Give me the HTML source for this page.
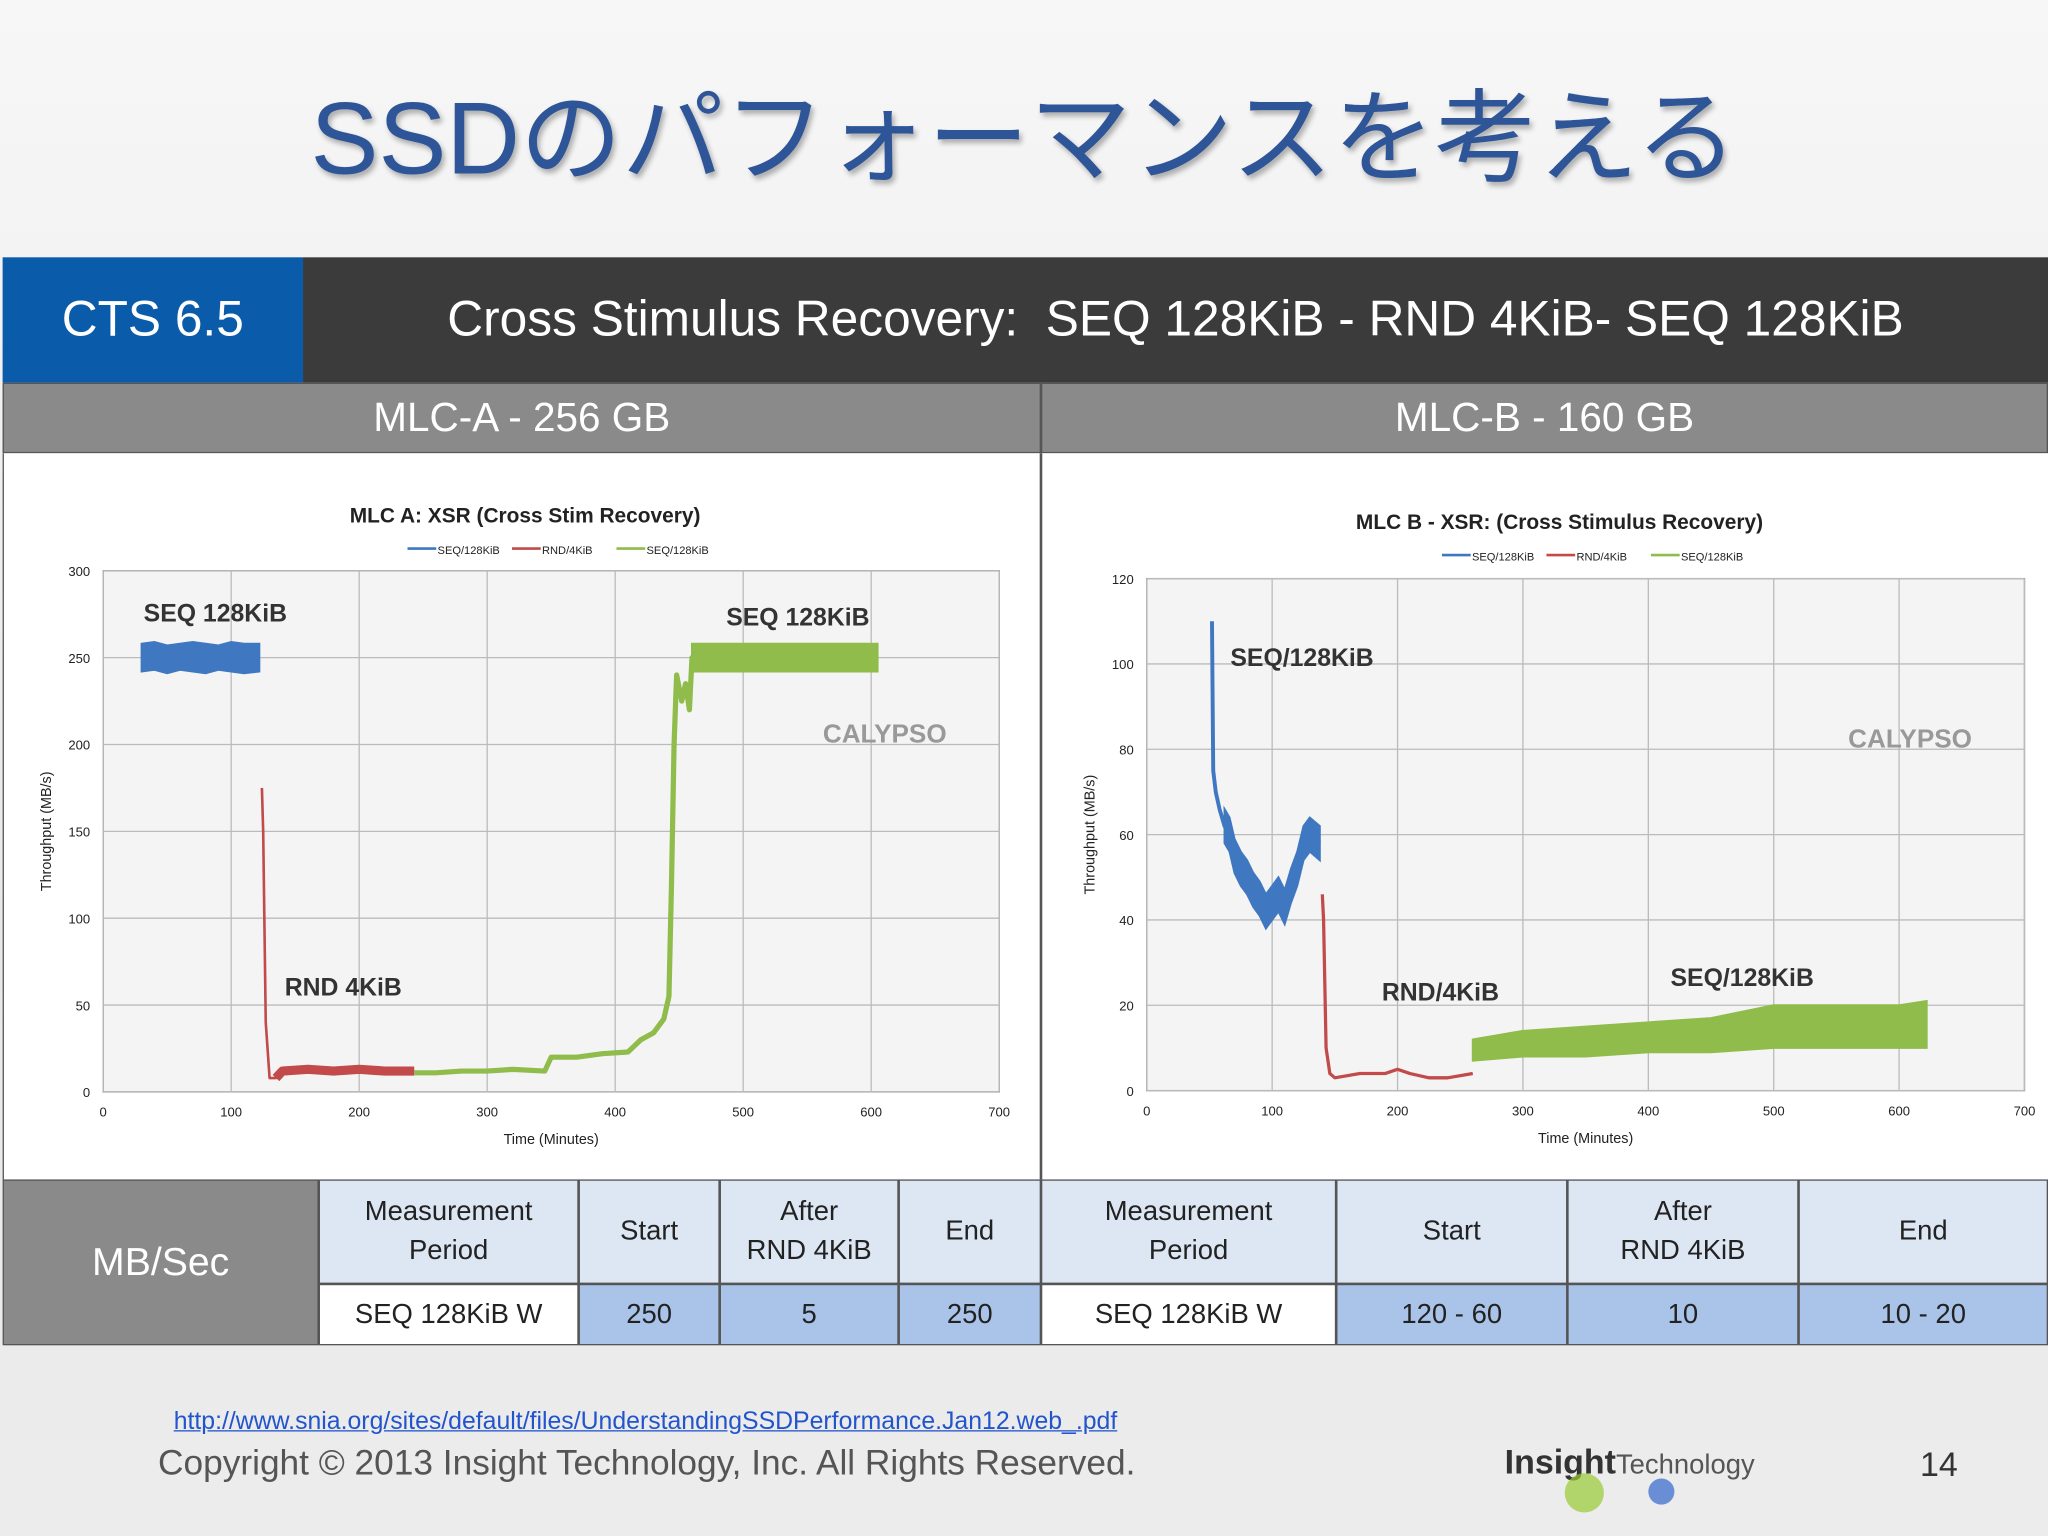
<!DOCTYPE html>
<html><head><meta charset="utf-8"><style>
html,body{margin:0;padding:0;width:2048px;height:1536px;overflow:hidden}
#wrap{position:absolute;left:0;top:0;width:1568px;height:1176px;transform:scale(1.306122);transform-origin:0 0;background:linear-gradient(#f7f7f7,#e8e8e8 60%,#ececec);font-family:"Liberation Sans","Noto Sans CJK JP",sans-serif}
.a{position:absolute}
.c{display:flex;align-items:center;justify-content:center;text-align:center;box-sizing:border-box}
</style></head><body>
<div id="wrap">
<div class="a c" style="left:0;top:50px;width:1568px;height:100px;font-size:78px;color:#2e5597;text-shadow:2px 3px 4px rgba(0,0,0,.3)">SSDのパフォーマンスを考える</div>
<div class="a c" style="left:2px;top:197px;width:230px;height:96px;background:#0b5bab;color:#fff;font-size:38px">CTS 6.5</div>
<div class="a c" style="left:232px;top:197px;width:1336px;height:96px;background:#3b3b3b;color:#fff;font-size:38px">Cross Stimulus Recovery:&nbsp; SEQ 128KiB - RND 4KiB- SEQ 128KiB</div>
<div class="a c" style="left:2px;top:293px;width:795px;height:54px;background:#8a8a8a;color:#fff;font-size:31px;border:1px solid #555">MLC-A - 256 GB</div>
<div class="a c" style="left:797px;top:293px;width:771px;height:54px;background:#8a8a8a;color:#fff;font-size:31px;border:1px solid #555">MLC-B - 160 GB</div>
<div class="a" style="left:2px;top:347px;width:1566px;height:556px;background:#fff;border-left:1px solid #555"></div>
<div class="a" style="left:796px;top:347px;width:2px;height:556px;background:#555"></div>
<svg id="chartA" class="a" style="left:0;top:347px" width="797" height="556"></svg>
<svg id="chartB" class="a" style="left:798px;top:347px" width="770" height="556"></svg>

<div class="a" style="left:2px;top:903px;width:1566px;height:127px;background:#555"></div>
<div class="a c" style="left:3px;top:904px;width:240px;height:125px;background:#8a8a8a;color:#fff;font-size:30px">MB/Sec</div>
<div id="tbl"></div>

<div class="a" style="left:133px;top:1078px;font-size:19px;color:#2255cc;text-decoration:underline">http://www.snia.org/sites/default/files/UnderstandingSSDPerformance.Jan12.web_.pdf</div>
<div class="a" style="left:121px;top:1105px;font-size:27px;color:#555">Copyright © 2013 Insight Technology, Inc. All Rights Reserved.</div>
<div class="a" style="left:1152px;top:1104px;font-size:26px;color:#333;font-weight:bold">Insight<span style="font-weight:normal;font-size:21px;color:#555">Technology</span></div>
<div class="a" style="left:1198px;top:1128px;width:30px;height:30px;border-radius:50%;background:#9c3;opacity:.7"></div>
<div class="a" style="left:1262px;top:1132px;width:20px;height:20px;border-radius:50%;background:#36c;opacity:.7"></div>
<div class="a" style="left:1470px;top:1106px;font-size:26px;color:#333">14</div>
</div>
<script>
// ---- Chart A data ----
const aBlueX=[30,40,50,60,70,80,90,100,110,122];
const aBlueLo=[242,243,241,243,242,241,243,242,241,242];
const aBlueHi=[258,259,257,258,259,258,257,259,258,258];
const aRedX=[124,125,127,130,135,140,160,180,200,220,243];
const aRedY=[175,150,40,8,8,12,13,12,13,12,12];
const aGreenX=[243,260,280,300,320,345,350,370,390,410,420,430,438,442,444,446,448,452,455,458,460,470,500,550,605];
const aGreenY=[11,11,12,12,13,12,20,20,22,23,30,34,42,55,120,200,240,225,235,220,250,250,250,250,250];
// ---- Chart B data ----
const bBlueX=[52,53,55,58,62,66,70,75,80,85,90,95,100,105,110,115,120,125,130,138];
const bBlueY=[110,75,70,66,62,60,55,52,50,47,45,42,44,46,43,48,52,58,60,58];
const bRedX=[140,141,143,146,150,170,190,200,210,225,240,260];
const bRedY=[46,40,10,4,3,4,4,5,4,3,3,4];
const bGreenX=[260,300,350,400,450,500,550,600,622];
const bGreenLo=[7,8,8,9,9,10,10,10,10];
const bGreenHi=[12,14,15,16,17,20,20,20,21];
const xTicks=[0,100,200,300,400,500,600,700];
const aYTicks=[0,50,100,150,200,250,300];
const bYTicks=[0,20,40,60,80,100,120];
const NS="http://www.w3.org/2000/svg";
function mk(svg,tag,at,txt){const e=document.createElementNS(NS,tag);for(const k in at)e.setAttribute(k,at[k]);if(txt!=null)e.textContent=txt;svg.appendChild(e);return e;}
function axes(svg,px,py,pw,ph,ymax,yTicks,title,ttlY,name){
  const X=v=>px+v/700*pw, Y=v=>py+ph-v/ymax*ph;
  let r=mk(svg,'rect',{x:px,y:py,width:pw,height:ph,fill:'#f4f4f4',stroke:'#777'});
  
  xTicks.forEach(t=>{let l=mk(svg,'line',{x1:X(t),x2:X(t),y1:py,y2:py+ph,stroke:'#bbb'});
    let tx=mk(svg,'text',{x:X(t),y:py+ph+19,'font-size':10,'text-anchor':'middle',fill:'#222'},t);});
  yTicks.forEach(t=>{let l=mk(svg,'line',{x1:px,x2:px+pw,y1:Y(t),y2:Y(t),stroke:'#bbb'});
    let tx=mk(svg,'text',{x:px-10,y:Y(t)+4,'font-size':10,'text-anchor':'end',fill:'#222'},t);});
  let tt=mk(svg,'text',{x:px+pw/2-20,y:ttlY,'font-size':16,'font-weight':'bold','text-anchor':'middle',fill:'#222'},title);
  let xt=mk(svg,'text',{x:px+pw/2,y:py+ph+40,'font-size':11,'text-anchor':'middle',fill:'#222'},'Time (Minutes)');
  let yt=mk(svg,'text',{x:0,y:0,'font-size':11,'text-anchor':'middle',fill:'#222',transform:`translate(${px-40},${py+ph/2}) rotate(-90)`},'Throughput (MB/s)');
  const cols=['#3f78c0','#c24a4a','#8fbc4a'],labs=['SEQ/128KiB','RND/4KiB','SEQ/128KiB'];
  let lx=px+pw/2-110;
  labs.forEach((s,i)=>{let g=mk(svg,'g',{});
    mk(g,'line',{x1:lx,x2:lx+22,y1:ttlY+20,y2:ttlY+20,stroke:cols[i],'stroke-width':2});
    mk(g,'text',{x:lx+23,y:ttlY+24,'font-size':8.5,fill:'#222'},s);lx+=80;});
  let w=mk(svg,'text',{x:px+pw-135,y:py+ph*0.33,'font-size':20,fill:'#999','font-weight':'bold'},'CALYPSO');
  return {X,Y};
}
function band(svg,X,Y,xs,lo,hi,col,name){
  let d='M'+xs.map((x,i)=>X(x)+','+Y(hi[i])).join('L')+'L'+xs.slice().reverse().map((x,j)=>X(x)+','+Y(lo[xs.length-1-j])).join('L')+'Z';
  let p=mk(svg,'path',{d,fill:col,stroke:col,'stroke-width':1.5});
}
function line(svg,X,Y,xs,ys,col,w,name){
  let p=mk(svg,'polyline',{points:xs.map((x,i)=>X(x)+','+Y(ys[i])).join(' '),fill:'none',stroke:col,'stroke-width':w,'stroke-linejoin':'round'});
}
function lab(svg,x,y,t){let e=mk(svg,'text',{x,y,'font-size':19,'font-weight':'bold',fill:'#333'},t);}
// Chart A
const A=document.getElementById('chartA');
let sa=axes(A,79,90,686,399,300,aYTicks,'MLC A:  XSR (Cross Stim Recovery)',53);
band(A,sa.X,sa.Y,aBlueX,aBlueLo,aBlueHi,'#3f78c0','series-seq-start');
line(A,sa.X,sa.Y,aRedX,aRedY,'#c24a4a',2,'series-rnd');
line(A,sa.X,sa.Y,aRedX.slice(4),aRedY.slice(4),'#c24a4a',7,'series-rnd-band');
line(A,sa.X,sa.Y,aGreenX,aGreenY,'#8fbc4a',4,'series-seq-end');
band(A,sa.X,sa.Y,aGreenX.slice(20),aGreenY.slice(20).map(v=>v-8),aGreenY.slice(20).map(v=>v+8),'#8fbc4a','series-seq-end-band');
lab(A,110,129,'SEQ 128KiB');lab(A,556,132,'SEQ 128KiB');lab(A,218,415,'RND 4KiB');
// Chart B
const B=document.getElementById('chartB');
let sb=axes(B,80,96,672,392,120,bYTicks,'MLC B - XSR: (Cross Stimulus Recovery)',58);
line(B,sb.X,sb.Y,bBlueX,bBlueY,'#3f78c0',3,'series-seq-start');
band(B,sb.X,sb.Y,bBlueX.slice(4),bBlueY.slice(4).map(v=>v-4),bBlueY.slice(4).map(v=>v+4),'#3f78c0','series-seq-start-band');
line(B,sb.X,sb.Y,bRedX,bRedY,'#c24a4a',2.5,'series-rnd');
band(B,sb.X,sb.Y,bGreenX,bGreenLo,bGreenHi,'#8fbc4a','series-seq-end');
lab(B,144,163,'SEQ/128KiB');lab(B,260,419,'RND/4KiB');lab(B,481,408,'SEQ/128KiB');
// Table
const cols=[[244,443,'Measurement<br>Period','SEQ 128KiB W'],[443,551,'Start','250'],[551,688,'After<br>RND 4KiB','5'],[688,797,'End','250'],[797,1023,'Measurement<br>Period','SEQ 128KiB W'],[1023,1200,'Start','120 - 60'],[1200,1377,'After<br>RND 4KiB','10'],[1377,1568,'End','10 - 20']];
const wrap=document.getElementById('wrap');
cols.forEach((c,i)=>{
  const h=document.createElement('div');h.className='a c';
  
  
  h.style.cssText=`left:${c[0]+1}px;top:904px;width:${c[1]-c[0]-2}px;height:78px;background:#dde6f3;font-size:21px;line-height:30px;color:#222`;
  h.innerHTML=c[2];wrap.appendChild(h);
  const v=document.createElement('div');v.className='a c';
  
  
  const first=(i%4===0);
  v.style.cssText=`left:${c[0]+1}px;top:984px;width:${c[1]-c[0]-2}px;height:45px;background:${first?'#fff':'#a9c4e8'};font-size:21px;color:#222`;
  v.textContent=c[3];wrap.appendChild(v);
});
</script>
</body></html>
